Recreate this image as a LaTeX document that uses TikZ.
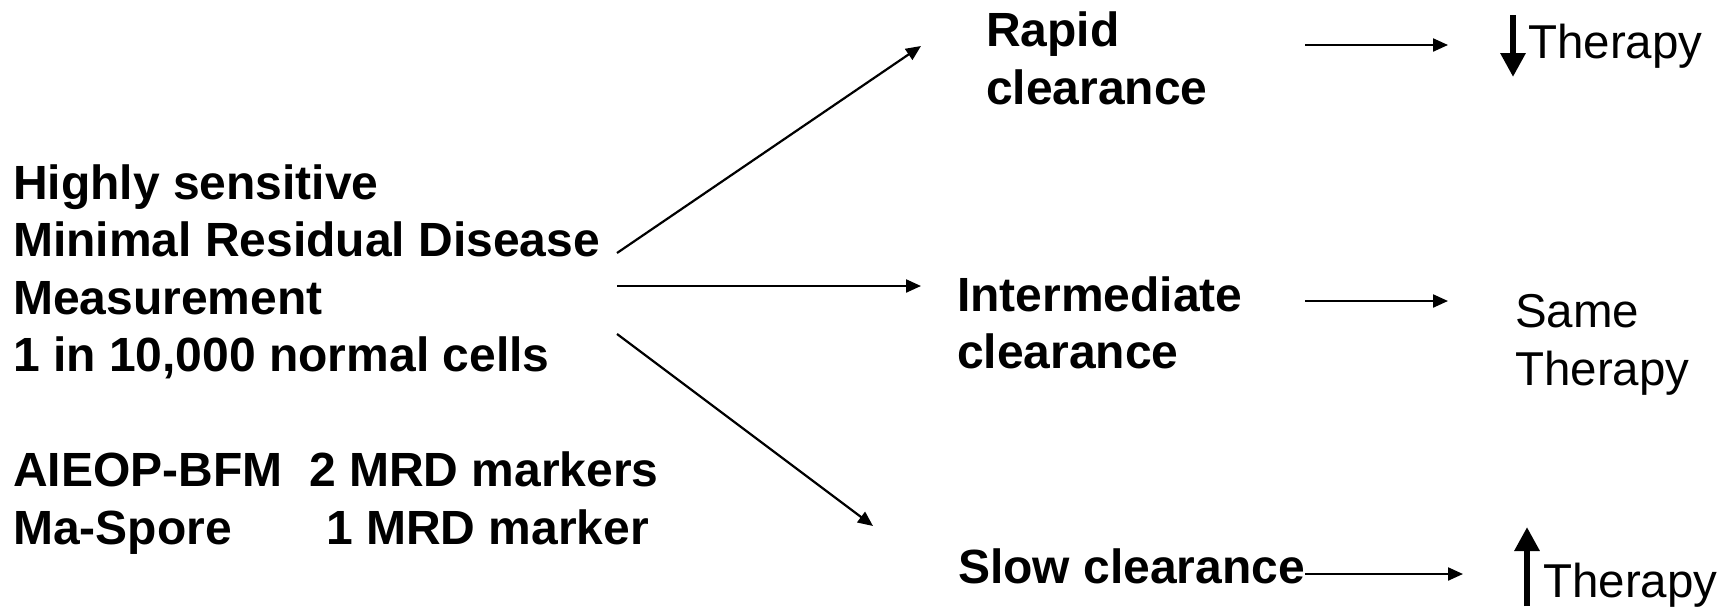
\documentclass[tikz,border=0pt]{standalone}
\usepackage{fontspec}
\setmainfont{Liberation Sans}
\usetikzlibrary{arrows.meta}
\begin{document}
\begin{tikzpicture}[x=1pt,y=-1pt,
  txt/.style={inner sep=0pt, anchor=base west, align=left,
    font=\fontsize{47.5}{57.5}\selectfont},
  btxt/.style={txt, font=\fontsize{48}{57.5}\selectfont\bfseries},
  flow/.style={line width=2.2pt, -{Triangle[length=15pt,width=13pt]}},
  bigarrow/.style={line width=6pt, -{Triangle[length=24pt,width=24pt]}}]
\useasboundingbox[fill=white] (0,0) rectangle (1734,608);

% measurement description (placed by the baseline of its last line)
\node[btxt] (mrd) at (13,544) {Highly sensitive\\
  Minimal Residual Disease\\
  Measurement\\
  1 in 10,000 normal cells\\[57.5pt]
  \makebox[296pt][l]{AIEOP-BFM}2 MRD markers\\
  \makebox[313pt][l]{Ma-Spore}1 MRD marker};

% clearance groups
\node[btxt] (rapid) at (986,104) {Rapid\\clearance};
\node[btxt] (inter) at (957,368.5) {Intermediate\\clearance};
\node[btxt] (slow)  at (958,583) {Slow clearance};

% therapy outcomes
\node[txt] (less) at (1528,58)  {Therapy};
\node[txt] (same) at (1515,385) {Same\\Therapy};
\node[txt] (more) at (1543,597) {Therapy};

% connector end points
\coordinate (o1) at (617,253);
\coordinate (o2) at (617,286);
\coordinate (o3) at (617,334);
\coordinate (t1) at (921,46);
\coordinate (t2) at (921,286);
\coordinate (t3) at (873,526);

\coordinate (r1) at (1305,45);   \coordinate (s1) at (1448,45);
\coordinate (r2) at (1305,301);  \coordinate (s2) at (1448,301);
\coordinate (r3) at (1305,574);  \coordinate (s3) at (1463,574);

\draw[flow] (o1) -- (t1);
\draw[flow] (o2) -- (t2);
\draw[flow] (o3) -- (t3);

\draw[flow] (r1) -- (s1);
\draw[flow] (r2) -- (s2);
\draw[flow] (r3) -- (s3);

% decrease / increase marks
\coordinate (dn0) at (1513,15);  \coordinate (dn1) at (1513,77);
\coordinate (up0) at (1527,606); \coordinate (up1) at (1527,527);
\draw[bigarrow] (dn0) -- (dn1);
\draw[bigarrow] (up0) -- (up1);
\end{tikzpicture}
\end{document}
